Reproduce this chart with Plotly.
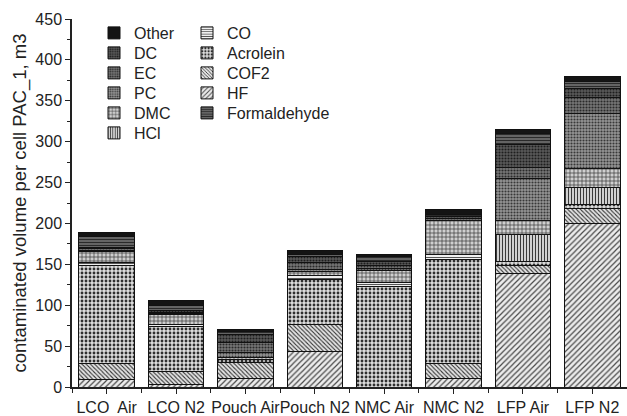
import plotly.graph_objects as go

# Cell / atmosphere combinations on the x axis
categories = ["LCO\u00a0 Air", "LCO N2", "Pouch Air", "Pouch N2",
              "NMC Air", "NMC N2", "LFP Air", "LFP N2"]

# Contaminated volume per cell (PAC-1 basis, m3) for each gas, stacked bottom to top
hf           = [9.5, 2.5, 10.5, 43.0, 0.0, 10.5, 139.0, 199.5]
cof2         = [19.5, 16.0, 19.0, 34.0, 0.0, 18.5, 10.0, 19.0]
acrolein     = [119.0, 55.0, 4.0, 55.0, 122.5, 127.5, 4.0, 5.0]
co           = [4.0, 3.5, 0.0, 4.0, 5.0, 5.0, 0.0, 0.0]
hcl          = [0.0, 0.0, 0.0, 0.0, 0.0, 0.0, 33.0, 21.0]
dmc          = [14.0, 12.0, 3.0, 5.0, 15.5, 42.0, 18.0, 22.5]
pc           = [1.5, 1.0, 6.0, 3.0, 2.0, 0.0, 51.0, 67.0]
ec           = [1.5, 1.0, 12.0, 8.0, 4.0, 2.0, 14.0, 19.5]
dc           = [2.0, 2.0, 10.0, 7.0, 4.0, 3.0, 27.0, 12.0]
formaldehyde = [13.5, 7.0, 3.0, 3.0, 6.0, 3.0, 13.5, 8.0]
other        = [4.5, 5.5, 3.0, 5.5, 3.5, 5.0, 5.0, 6.0]

y_ticks = [0, 50, 100, 150, 200, 250, 300, 350, 400, 450]

# Legend layout: two columns, read top to bottom
legend_columns = [["Other", "DC", "EC", "PC", "DMC", "HCl"],
                  ["CO", "Acrolein", "COF2", "HF", "Formaldehyde"]]

# name, values, pattern shape, background, foreground, pattern size, solidity
series = [
    ("HF",           hf,           "/",  "#ececec", "#4a4a4a", 4, 0.3),
    ("COF2",         cof2,         "\\", "#e4e4e4", "#333333", 3, 0.35),
    ("Acrolein",     acrolein,     ".",  "#dcdcdc", "#2e2e2e", 4, 0.4),
    ("CO",           co,           "-",  "#efefef", "#555555", 3, 0.35),
    ("HCl",          hcl,          "|",  "#e2e2e2", "#3a3a3a", 3, 0.4),
    ("DMC",          dmc,          "+",  "#cfcfcf", "#2e2e2e", 4, 0.3),
    ("PC",           pc,           ".",  "#959595", "#383838", 3, 0.4),
    ("EC",           ec,           ".",  "#767676", "#2a2a2a", 3, 0.4),
    ("DC",           dc,           ".",  "#5a5a5a", "#1e1e1e", 3, 0.4),
    ("Formaldehyde", formaldehyde, "-",  "#6a6a6a", "#2a2a2a", 3, 0.4),
    ("Other",        other,        "",   "#141414", "#141414", 3, 0.4),
]

x_pos = list(range(len(categories)))

# Plot-area geometry (px) used to place the legend entries
plot_left, plot_width = 72, 555
plot_top, plot_height = 19, 368
col_text_px = [134, 227]
row_center_px = 33
row_step_px = 20

legend_ids = {}
legend_layouts = {}
k = 0
for c, names in enumerate(legend_columns):
    for r, name in enumerate(names):
        k += 1
        lid = "legend" if k == 1 else f"legend{k}"
        legend_ids[name] = lid
        legend_layouts[lid] = dict(
            x=(col_text_px[c] - 40 - plot_left) / plot_width,
            y=1 - (row_center_px + r * row_step_px - plot_top) / plot_height,
            xanchor="left", yanchor="middle",
            bgcolor="rgba(0,0,0,0)", borderwidth=0,
            font=dict(size=16),
        )

fig = go.Figure()
for name, vals, shape, bg, fg, size, sol in series:
    fig.add_trace(go.Bar(
        x=x_pos, y=vals, name=name,
        legend=legend_ids[name],
        width=0.8,
        marker=dict(
            color=bg,
            line=dict(color="#111111", width=1),
            pattern=dict(shape=shape, bgcolor=bg, fgcolor=fg,
                         size=size, solidity=sol, fillmode="replace"),
        ),
    ))

font_family = "Liberation Sans, Arial, sans-serif"

fig.update_layout(
    width=627, height=416,
    barmode="stack",
    showlegend=True,
    paper_bgcolor="white", plot_bgcolor="white",
    margin=dict(l=plot_left, r=627 - plot_left - plot_width,
                t=plot_top, b=416 - plot_top - plot_height, autoexpand=False),
    font=dict(family=font_family, size=16, color="#222222"),
    xaxis=dict(
        range=[-0.5, 7.5],
        tickmode="array", tickvals=x_pos, ticktext=categories,
        tickangle=0, automargin=False,
        ticks="outside", ticklen=5, tickwidth=1.2, tickcolor="#222",
        showline=True, linecolor="#222", linewidth=1.5,
        showgrid=False, zeroline=False,
        tickfont=dict(size=16),
        minor=dict(tickmode="array", tickvals=[i + 0.5 for i in x_pos[:-1]] + [-0.5],
                   ticks="outside", ticklen=4, tickcolor="#222"),
    ),
    yaxis=dict(
        range=[0, 450], automargin=False,
        tickmode="array", tickvals=y_ticks,
        ticks="outside", ticklen=5, tickwidth=1.2, tickcolor="#222",
        showline=True, linecolor="#222", linewidth=1.5,
        showgrid=False, zeroline=False,
        tickfont=dict(size=16),
        minor=dict(dtick=25, tick0=0, ticks="outside", ticklen=3, tickcolor="#222"),
        title=dict(text="contaminated volume per cell PAC_1, m3",
                   font=dict(size=18.5), standoff=4),
    ),
)
fig.update_layout(**legend_layouts)

fig.write_html("out.html")
